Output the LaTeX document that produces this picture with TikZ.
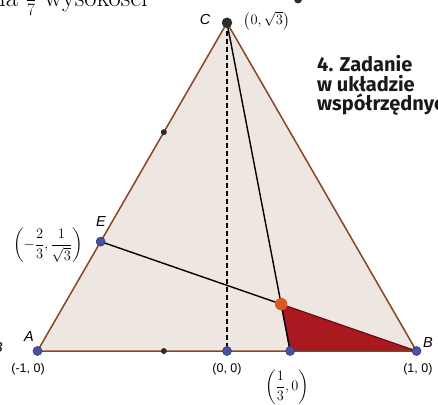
\documentclass[tikz,border=0pt]{standalone}
\usepackage[no-math]{fontspec}
\usepackage{amsmath}
\usepackage{tikz}
\usetikzlibrary{positioning,backgrounds,calc}
\newfontfamily\labelfont{Liberation Sans}
\newfontfamily\headfont{Fira Sans}
\definecolor{trifill}{RGB}{238,230,224}
\definecolor{edgebrown}{RGB}{135,70,35}
\definecolor{regionred}{RGB}{170,25,32}
\definecolor{ptblue}{RGB}{72,82,165}
\definecolor{ptorange}{RGB}{216,90,40}
\definecolor{ptdark}{RGB}{45,45,45}
\definecolor{headtext}{RGB}{25,25,25}
\tikzset{
  bluept/.style={circle, draw=ptblue!70!black, fill=ptblue, line width=0.6pt,
                 inner sep=0pt, minimum size=9pt},
  darkpt/.style={circle, fill=ptdark, inner sep=0pt, minimum size=6pt},
  toppt/.style={circle, fill=ptdark, inner sep=0pt, minimum size=10.5pt},
  orangept/.style={circle, fill=ptorange, inner sep=0pt, minimum size=12.5pt},
  vertlabel/.style={font=\labelfont\itshape\fontsize{14.5}{17}\selectfont, inner sep=0pt},
  coordlabel/.style={font=\labelfont\fontsize{12.5}{15}\selectfont, inner sep=0pt},
  mathlabel/.style={font=\fontsize{13.5}{16}\selectfont, inner sep=0pt},
  edgeline/.style={draw=edgebrown, line width=1.5pt},
  segline/.style={draw=black, line width=1.4pt},
  heightline/.style={draw=black, line width=1.3pt, dash pattern=on 5pt off 3pt}
}
\begin{document}
\begin{tikzpicture}[x=189.5pt, y=189.5pt]
  \useasboundingbox (-227pt,-53pt) rectangle (211pt,351pt);
  \clip (-227pt,-53pt) rectangle (211pt,351pt);

  % Points of the triangle
  \node[bluept] (A) at (-1,0) {};
  \node[bluept] (B) at (1,0) {};
  \node[toppt] (C) at (0,{sqrt(3)}) {};
  \node[bluept] (O) at (0,0) {};
  \node[bluept] (D) at (1/3,0) {};
  \node[bluept] (E) at (-2/3,{1/sqrt(3)}) {};
  \node[darkpt] (M1) at (-1/3,{2/sqrt(3)}) {};
  \node[darkpt] (M2) at (-1/3,0) {};
  \node[orangept] (P) at (2/7,{sqrt(3)/7}) {};

  % Triangle, shaded part and segments
  \begin{scope}[on background layer]
    \fill[trifill] (A.center) -- (B.center) -- (C.center) -- cycle;
    \fill[regionred] (P.center) -- (D.center) -- (B.center) -- cycle;
    \draw[regionred!60!black, line width=1.2pt] (P.center) -- (D.center) -- (B.center) -- cycle;
    \draw[edgeline] (A.center) -- (B.center) -- (C.center) -- cycle;
    \draw[heightline] (C.center) -- (O.center);
    \draw[segline] (C.center) -- (D.center);
    \draw[segline] (E.center) -- (P.center);
  \end{scope}

  % Vertex labels
  \node[vertlabel] (labC) at (-0.116,1.747) {C};
  \node[vertlabel] (labE) at (-0.665,0.681) {E};
  \node[vertlabel] (labA) at (-1.045,0.074) {A};
  \node[vertlabel] (labB) at (1.061,0.047) {B};

  % Coordinates
  \node[mathlabel, font=\fontsize{15}{18}\selectfont] (coC) at (0.21,1.743)
        {$\left(0,\sqrt{3}\right)$};
  \node[mathlabel] (coE) at (-0.945,0.559) {$\left(-\dfrac{2}{3},\dfrac{1}{\sqrt{3}}\right)$};
  \node[mathlabel] (coD) at (0.317,-0.19) {$\left(\dfrac{1}{3},0\right)$};
  \node[coordlabel] (coA) at (-1.050,-0.095) {(-1, 0)};
  \node[coordlabel] (coO) at (0,-0.095) {(0, 0)};
  \node[coordlabel, anchor=west] (coB) at (0.929,-0.095) {(1, 0)};

  % Heading on the right
  \node[font=\headfont\bfseries\fontsize{20}{19.5}\selectfont, text=headtext,
        align=left, anchor=north west, inner sep=0pt] (head) at (0.475,1.56)
        {4. Zadanie\\w układzie\\współrzędnych};

  % Cut-off bits of the page
  \node[font=\fontsize{26.5}{30}\selectfont, anchor=base east, inner sep=0pt] (toptext)
        at (-0.417,1.818) {długości równa $\frac{1}{7}$ wysokości};
  \node[vertlabel, anchor=east] (labBcut) at (-1.182,0.016) {B};
  \node[toppt, minimum size=8pt] (corner) at (0.375,1.855) {};
\end{tikzpicture}
\end{document}
